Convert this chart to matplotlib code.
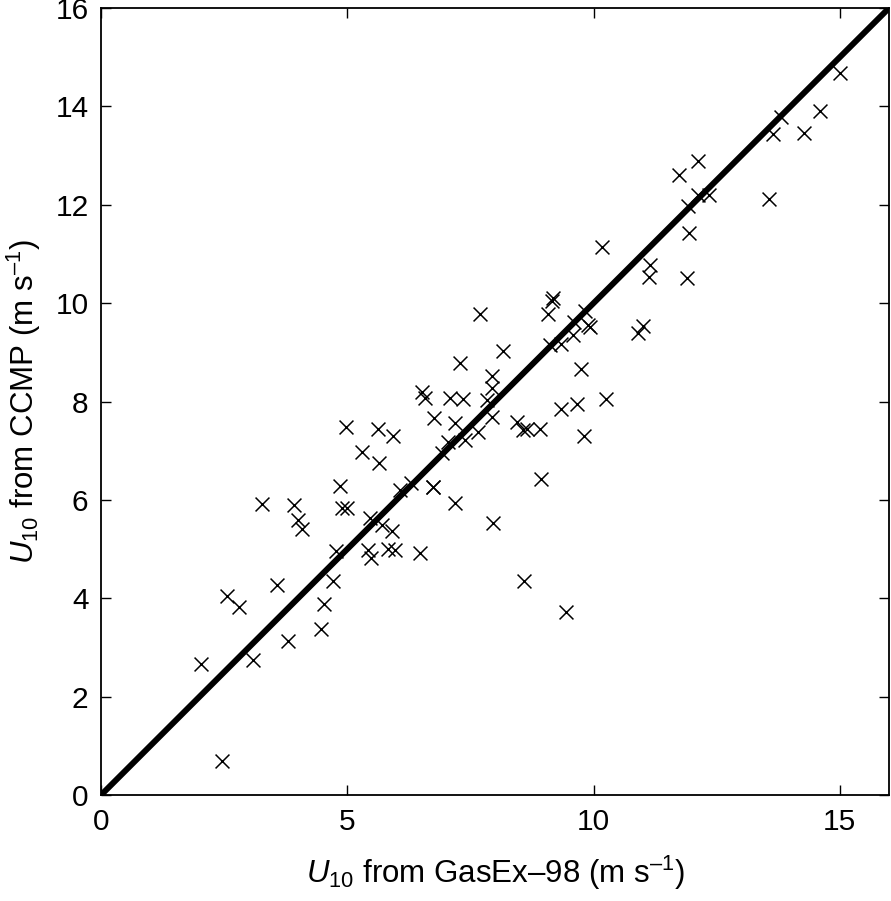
import matplotlib
matplotlib.use("Agg")
import matplotlib.pyplot as plt

gasex = [2.03, 2.46, 2.56, 2.80, 3.09, 3.27, 3.57, 3.80, 3.92, 4.00, 4.08, 4.47, 4.52, 4.71,
         4.77, 4.85, 4.97, 4.89, 5.00, 5.30, 5.42, 5.46, 5.48, 5.62, 5.64, 5.70, 5.83, 5.90,
         5.92, 5.97, 6.07, 6.30, 6.51, 6.58, 6.48, 6.75, 6.75, 6.76, 6.92, 7.05, 7.09, 7.19,
         7.19, 7.29, 7.35, 7.40, 7.66, 7.70, 7.83, 7.93, 7.93, 7.93, 7.96, 8.16, 8.44, 8.57,
         8.65, 8.59, 8.92, 8.93, 9.07, 9.11, 9.18, 9.15, 9.34, 9.34, 9.44, 9.60, 9.58, 9.66,
         9.75, 9.83, 9.81, 9.89, 9.93, 10.17, 10.26, 10.90, 11.00, 11.15, 11.13, 11.74, 11.89,
         11.94, 11.92, 12.12, 12.12, 12.35, 13.57, 13.64, 13.80, 14.28, 14.60, 15.01]
ccmp = [2.66, 0.69, 4.05, 3.82, 2.74, 5.92, 4.27, 3.13, 5.90, 5.59, 5.41, 3.37, 3.88, 4.35,
        4.96, 6.28, 7.48, 5.83, 5.83, 6.97, 4.98, 5.64, 4.81, 7.44, 6.75, 5.48, 5.00, 5.37,
        7.30, 4.98, 6.20, 6.35, 8.20, 8.07, 4.92, 6.26, 6.26, 7.67, 6.95, 7.18, 8.07, 7.56,
        5.94, 8.78, 8.05, 7.21, 7.38, 9.78, 8.04, 8.51, 8.27, 7.68, 5.53, 9.02, 7.58, 7.42,
        7.44, 4.35, 7.44, 6.42, 9.77, 9.15, 10.10, 10.05, 9.17, 7.84, 3.72, 9.62, 9.35, 7.95,
        8.67, 9.84, 7.30, 9.55, 9.51, 11.14, 8.06, 9.40, 9.54, 10.78, 10.54, 12.60, 10.51,
        11.43, 11.98, 12.89, 12.20, 12.20, 12.12, 13.44, 13.79, 13.45, 13.91, 14.68]
line_ends = [0, 16]
xticks = [0, 5, 10, 15]
yticks = [0, 2, 4, 6, 8, 10, 12, 14, 16]

plt.rcParams['font.family'] = ['Liberation Sans', 'DejaVu Sans']
plt.rcParams['mathtext.fontset'] = 'custom'
plt.rcParams['mathtext.rm'] = 'Liberation Sans'
plt.rcParams['mathtext.it'] = 'Liberation Sans:italic'

fig = plt.figure(figsize=(8.91, 9.01), dpi=100)
ax = fig.add_axes([0.1134, 0.1176, 0.8844, 0.8735])

ax.plot(line_ends, line_ends, color='black', lw=4.3, solid_capstyle='butt', zorder=2)
ax.scatter(gasex, ccmp, marker='x', s=100, c='black', linewidths=1.1, zorder=3, clip_on=False)

ax.set_xlim(0, 16)
ax.set_ylim(0, 16)
ax.set_xticks(xticks)
ax.set_yticks(yticks)
ax.tick_params(direction='in', length=7, width=1.0, labelsize=21.5, top=True, right=True, pad=9)
for s in ax.spines.values():
    s.set_linewidth(1.3)

ax.set_xlabel(r'$\mathit{U}_{\mathrm{10}}$ from GasEx–98 (m s$^{–1}$)', fontsize=22.5, labelpad=13)
ax.set_ylabel(r'$\mathit{U}_{\mathrm{10}}$ from CCMP (m s$^{–1}$)', fontsize=22.5, labelpad=9)

fig.savefig('out.png', dpi=100)
